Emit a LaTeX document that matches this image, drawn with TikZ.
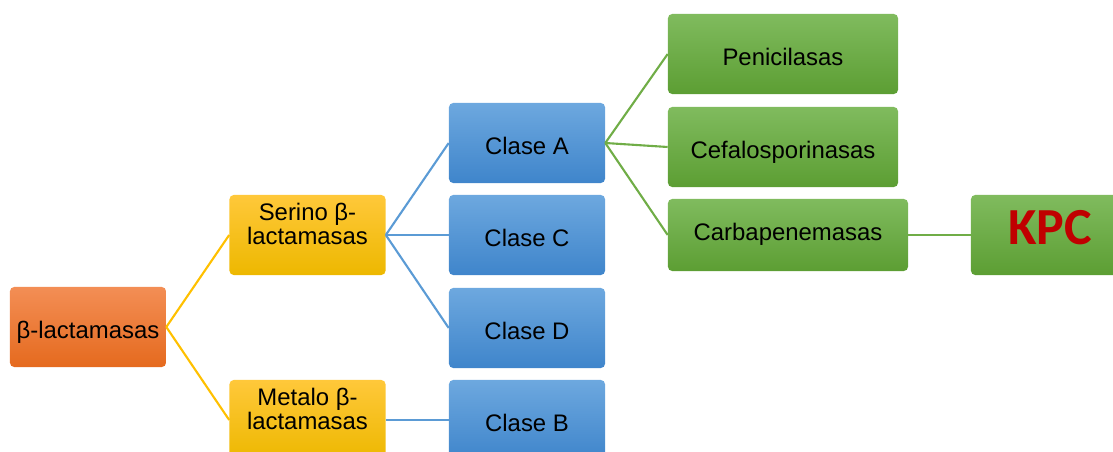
\documentclass[tikz,border=0pt]{standalone}
\usepackage{fontspec}
\setmainfont{Liberation Sans}
\newfontfamily\kpcfont{Carlito}
\usetikzlibrary{positioning}
\definecolor{orangetop}{HTML}{F38E55}
\definecolor{orangebot}{HTML}{E56A1E}
\definecolor{yellowtop}{HTML}{FFC83A}
\definecolor{yellowbot}{HTML}{EDB800}
\definecolor{bluetop}{HTML}{6DA8DF}
\definecolor{bluebot}{HTML}{3F85CB}
\definecolor{greentop}{HTML}{80BB5E}
\definecolor{greenbot}{HTML}{5C9E33}
\definecolor{yellowline}{HTML}{FFC000}
\definecolor{blueline}{HTML}{5B9BD5}
\definecolor{greenline}{HTML}{70AD47}
\definecolor{kpcred}{HTML}{C00000}
\newcommand{\twoline}[2]{\begin{tabular}[b]{@{}c@{}}#1\\#2\end{tabular}}
\tikzset{box/.style = {rounded corners=3pt, minimum height=2cm, minimum width=3.9cm,
    font=\fontsize{17}{16.5}\selectfont, inner sep=2pt, text height=16.6pt, text depth=0pt}}
\tikzset{rootbox/.style = {box, top color=orangetop, bottom color=orangebot}}
\tikzset{typebox/.style = {box, top color=yellowtop, bottom color=yellowbot, text height=14.2pt}}
\tikzset{classbox/.style = {box, top color=bluetop, bottom color=bluebot}}
\tikzset{enzbox/.style = {box, top color=greentop, bottom color=greenbot, minimum width=5.75cm}}
\tikzset{branch/.style = {line width=1.5pt}}

\begin{document}
\begin{tikzpicture}[x=0.025cm, y=-0.025cm]
  \clip (0,0) rectangle (1113,452);
  \node [rootbox] (root) at (88,327) {β-lactamasas};
  \node [typebox] (serino) at (307.5,235) {\twoline{Serino β-}{lactamasas}};
  \node [typebox] (metalo) at (307.5,420) {\twoline{Metalo β-}{lactamasas}};

  \node [classbox] (clA) at (527,143) {Clase A};
  \node [classbox] (clC) at (527,235) {Clase C};
  \node [classbox] (clD) at (527,328) {Clase D};
  \node [classbox] (clB) at (527,420) {Clase B};

  \node [enzbox] (pen) at (783,54) {Penicilasas};
  \node [enzbox] (cef) at (783,147) {Cefalosporinasas};
  \node [enzbox, minimum width=6cm, minimum height=1.8cm, text height=8.5pt] (carb) at (788,235) {Carbapenemasas};
  \node [enzbox, minimum width=3.95cm, font=\kpcfont\bfseries\fontsize{37}{37}\selectfont,
         text=kpcred, text height=14.2pt] (kpc) at (1050,235) {KPC};

  \draw [branch, yellowline] (root.east) -- (serino.west);
  \draw [branch, yellowline] (root.east) -- (metalo.west);

  \draw [branch, blueline] (serino.east) -- (clA.west);
  \draw [branch, blueline] (serino.east) -- (clC.west);
  \draw [branch, blueline] (serino.east) -- (clD.west);
  \draw [branch, blueline] (metalo.east) -- (clB.west);

  \draw [branch, greenline] (clA.east) -- (pen.west);
  \draw [branch, greenline] (clA.east) -- (cef.west);
  \draw [branch, greenline] (clA.east) -- (carb.west);
  \draw [branch, greenline] (carb.east) -- (kpc.west);
\end{tikzpicture}
\end{document}
